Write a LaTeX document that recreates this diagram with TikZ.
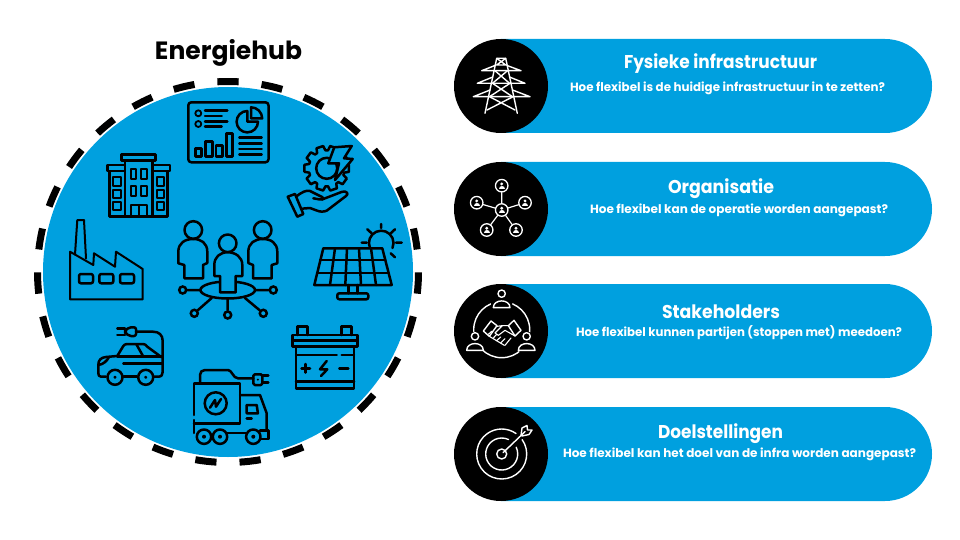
\documentclass[tikz,border=0pt]{standalone}
\usepackage{fontspec}
\setmainfont{Poppins}
\usepackage{graphicx}
\definecolor{hubblue}{HTML}{00A0DF}
\newcommand{\fitw}[3]{\resizebox{#1pt}{\height}{\fontsize{#2}{#2}\selectfont\bfseries #3}}
\tikzset{
  ico/.style={draw=black,line width=2.5pt,line join=round,line cap=round},
  icofill/.style={ico,fill=hubblue},
  wico/.style={draw=white,line width=1.4pt,line join=round,line cap=round},
  wicofill/.style={wico,fill=black},
  ringdash/.style={draw=black,line width=7pt},
  pill/.style={fill=hubblue},
  badge/.style={fill=black},
  lbl/.style={inner sep=0pt,text=white,anchor=center},
  dotnode/.style={circle,draw=black,line width=2.5pt,fill=hubblue,minimum size=7pt,inner sep=0pt},
  pnode/.style={circle,draw=white,line width=1.3pt,fill=black,minimum size=12.5pt,inner sep=0pt},
}
\begin{document}
\begin{tikzpicture}[x=1pt,y=-1pt]
\useasboundingbox (0,0) rectangle (960,540);
% hub disc and ring
\fill[hubblue] (228,272) circle[radius=185];
\foreach \k in {0,...,26}{
  \pgfmathsetmacro{\a}{-90+13.3333*\k}
  \draw[ringdash] (228,272)+(\a-3.2:190.5) arc[start angle=\a-3.2,end angle=\a+3.2,radius=190.5];
}
\node[inner sep=0pt,text=black] (title) at (228.5,52.5) {\fitw{147}{25}{Energiehub}};
% pills and badges
\foreach \y/\n in {39/a,162/b,284/c,407/d}{
  \fill[pill] (501,\y) -- (885,\y) arc[start angle=-90,end angle=90,radius=47] -- (501,\y+94) -- cycle;
  \fill[badge] (501,\y+47) circle[radius=47];
}
\node[lbl] (t1) at (720.5,64) {\fitw{193}{18.5}{Fysieke infrastructuur}};
\node[lbl] (s1) at (727.5,88) {\fitw{315}{12}{Hoe flexibel is de huidige infrastructuur in te zetten?}};
\node[lbl] (t2) at (721,189) {\fitw{106}{18.5}{Organisatie}};
\node[lbl] (s2) at (739,210) {\fitw{298}{12}{Hoe flexibel kan de operatie worden aangepast?}};
\node[lbl] (t3) at (721,311.5) {\fitw{118}{18.5}{Stakeholders}};
\node[lbl] (s3) at (739,333) {\fitw{326}{12}{Hoe flexibel kunnen partijen (stoppen met) meedoen?}};
\node[lbl] (t4) at (720.5,434) {\fitw{125}{18.5}{Doelstellingen}};
\node[lbl] (s4) at (739.5,454) {\fitw{353}{12}{Hoe flexibel kan het doel van de infra worden aangepast?}};
% dashboard
\draw[ico,rounded corners=3pt] (188.3,102.3) rectangle (268.5,162.3);
\draw[ico,line width=1.8pt] (198.3,113.3) circle[radius=3] (198.3,124) circle[radius=3];
\draw[ico] (205,110.7)--(227.3,110.7) (205,116)--(221.7,116) (205,121.7)--(227.3,121.7) (205,126.7)--(221.7,126.7);
\draw[ico,line cap=butt] (195.7,148.3) rectangle (201.7,156.7) (205.7,141.7) rectangle (212.3,156.7) (216,145.7) rectangle (222.7,156.7) (226.7,133.3) rectangle (232.7,156.7);
\draw[ico] (247.3,111) arc[start angle=-90,end angle=-360,radius=10.7] -- (247.3,121.7) -- cycle;
\draw[ico] (251,107.3) arc[start angle=-90,end angle=0,radius=11.2] -- (251,118.5) -- cycle;
\draw[ico] (239.3,137.7)--(261.7,137.7) (239.3,143.3)--(261.7,143.3) (239.3,149)--(261.7,149) (239.3,154.3)--(261.7,154.3);
% building
\draw[ico,line cap=butt] (121.7,154.3) rectangle (155.7,160.7);
\draw[ico,line cap=butt] (107.3,165) rectangle (125,171) (152.3,165) rectangle (170,171);
\draw[ico,line cap=butt] (125,160.7) rectangle (152.3,216.7);
\draw[ico,line cap=butt] (109.3,171) rectangle (125,216.7) (152.3,171) rectangle (167.7,216.7);
\foreach \yy in {169,185.7}{\draw[ico,line width=2pt] (130.7,\yy) rectangle (136,\yy+10) (141,\yy) rectangle (146.7,\yy+10);}
\draw[ico,line width=2pt] (130.7,216.7)--(130.7,205)--(146.7,205)--(146.7,216.7) (138.7,205)--(138.7,216.7);
\foreach \yy in {177.3,190,201.7}{\draw[ico,line width=2pt] (113.3,\yy) rectangle (120.7,\yy+8.3) (156.7,\yy) rectangle (164,\yy+8.3);}
% factory
\draw[ico,line width=2pt] (70,299.3)--(70,251.7)--(93.3,265)--(94,253.3)--(115,266.7)--(116,251.7)--(142.7,269)--(142.7,299.3)--cycle;
\draw[ico,line width=2pt] (75,254.5)--(77.3,220)--(84,220)--(86,258.5);
\foreach \xx in {79,99.3,120}{\draw[ico,rounded corners=2pt] (\xx,274) rectangle (\xx+14,283.3);}
% solar panel
\draw[ico] (323.3,248.3)--(382.3,248.3)--(391.7,285)--(314.3,285)--cycle;
\draw[ico] (320,260)--(385.3,260) (317,273)--(388.5,273);
\draw[ico] (335,248.3)--(330,285) (347,248.3)--(345.3,285) (359,248.3)--(361,285) (371,248.3)--(376,285);
\draw[ico] (348.3,285)--(348.3,293.3) (357.3,285)--(357.3,293.3);
\draw[ico,rounded corners=2pt] (337.3,293.3) rectangle (368.3,299.3);
\draw[ico] (370,248) arc[start angle=156,end angle=384,radius=12.3];
\draw[ico] (381,224)--(381,228) (367.3,229.3)--(371.7,233.3) (395,229.3)--(390.7,233.3) (361.7,242.7)--(366.7,242.7) (396,242.7)--(401.7,242.7) (390.7,253.3)--(395,257.3);
% gear and hand
\draw[ico] ([shift={(326.7,168.3)}]-14:18) \foreach \a in {0,36,...,324}{ -- ([shift={(326.7,168.3)}]\a-14:18) -- ([shift={(326.7,168.3)}]\a-9:22.5) -- ([shift={(326.7,168.3)}]\a+9:22.5) -- ([shift={(326.7,168.3)}]\a+14:18)} -- cycle;
\draw[ico] (326.7,168.3) circle[radius=10.5];
\draw[icofill] (334.3,147.3)--(351.7,146)--(344,158.3)--(352.7,159)--(335,180)--(339,163.3)--(328.3,163.3)--cycle;
\draw[ico] (287.7,196.7)--(295,194)--(303.3,214)--(297.3,216.7)--cycle;
\draw[ico] (296,196.7) .. controls (302,192) and (306,190) .. (310,191) -- (320,196) .. controls (324,197) and (324,200) .. (320,199.5) -- (313.3,198.3);
\draw[ico] (322,199.5) -- (342,191.8) .. controls (347,190.5) and (349,194) .. (346,196) -- (327,210.5) .. controls (324,212) and (320,212) .. (316.7,210.5) -- (310,208) -- (302.7,208.6);
% battery
\draw[ico] (297.3,335)--(297.3,326.7)--(307.3,326.7)--(307.3,335) (341.7,335)--(341.7,326.7)--(351.7,326.7)--(351.7,335);
\draw[ico] (292.7,335) rectangle (357.3,346.7);
\draw[ico] (292.7,340.7)--(357.3,340.7);
\draw[ico] (296,346.7) rectangle (354,388.3);
\draw[ico] (296,355)--(336.7,355) (341.7,355)--(354,355) (296,381.7)--(354,381.7);
\draw[ico] (301.5,368.3)--(310,368.3) (305.7,364)--(305.7,372.6) (339.3,368.3)--(348.3,368.3);
\draw[ico] (326.7,361)--(320,369.3)--(327.3,369.3)--(321,376);
% car
\draw[ico] (136,331.7)--(153,331.7) .. controls (159,331.7) and (162.7,335) .. (162.7,341) -- (162.7,372) .. controls (162.7,375) and (161.5,376.7) .. (158,376.7) -- (154,376.7);
\draw[ico,rounded corners=2pt] (136,327.3) -- (129,327.3) -- (125,331) -- (125,332.5) -- (129,336) -- (136,336) -- cycle;
\draw[ico] (117.3,328.6)--(125,328.6) (117.3,335)--(125,335);
\draw[ico] (106,376.7)--(101,376.7) .. controls (99,376.7) and (98.3,375) .. (98.3,373) -- (98.3,365) .. controls (98.3,360) and (101,357.5) .. (106,357) -- (117.3,356) -- (123,346.5) .. controls (124,345) and (125,344) .. (127,344) -- (143,344) .. controls (145,344) and (146,345) .. (147,346.5) -- (161.7,357.3);
\draw[ico] (117.3,356.5)--(161.7,356.5);
\draw[ico] (136.5,344.5)--(143,356);
\draw[ico] (123.3,363.3)--(161.7,363.3);
\draw[ico] (98.5,365) .. controls (103,364.5) and (107,361) .. (109,357);
\draw[ico] (123.5,376.7)--(137,376.7);
\draw[icofill] (115,377.3) circle[radius=7.5] (145.7,377.3) circle[radius=7.5];
\draw[ico,line width=1.2pt] (115,377.3) circle[radius=1] (145.7,377.3) circle[radius=1];
% truck
\draw[ico] (194,415)--(194,383.3)--(240,383.3)--(240,423.3)--(194,423.3) (194,420)--(194,433);
\draw[ico] (200,383.3)--(200,375) .. controls (200,372) and (202,370) .. (205,370) -- (228,370) .. controls (232,370) and (233,378.3) .. (238,378.3) -- (253.3,378.3);
\draw[ico,rounded corners=1.5pt] (253.3,374.3) rectangle (262.3,385);
\fill[black] (257.8,379.6) circle[radius=1.1];
\draw[ico] (262.3,375.3)--(268.3,375.3) (262.3,382.7)--(268.3,382.7);
\draw[ico] (215.7,403.3) circle[radius=11];
\draw[ico] (210,407.7)--(215,400)--(216,406.7)--(221,399);
\draw[ico] (240,395)--(260,395)--(266.7,413.3)--(266.7,430.7);
\draw[ico] (246.7,405)--(256.7,405)--(257.9,413.3)--(246.7,413.3)--cycle;
\draw[ico] (246.7,418.3)--(251.7,418.3);
\draw[ico] (226,433)--(246,433);
\draw[ico] (260,430.7)--(268.3,430.7)--(268.3,439)--(260.5,439);
\draw[icofill] (204,436.7) circle[radius=7.2] (220,436.7) circle[radius=7.2] (253.3,436.7) circle[radius=7.2];
\fill[black] (204,436.7) circle[radius=2] (220,436.7) circle[radius=2] (253.3,436.7) circle[radius=2];
% people group
\draw[ico] (193.3,230) circle[radius=8.8] (262.7,230) circle[radius=8.8];
\draw[ico] (184.3,278.3)--(184.3,265)--(178.3,263.3)--(178.3,251.7) .. controls (178.3,243) and (185,239) .. (193.3,239) .. controls (201,239) and (207.3,243) .. (207.3,251.7) -- (207.3,263) -- (203,265) -- (203,278.3) -- cycle;
\draw[ico] (271.7,278.3)--(271.7,265)--(277.3,263.3)--(277.3,251.7) .. controls (277.3,243) and (271,239) .. (262.7,239) .. controls (255,239) and (248.3,243) .. (248.3,251.7) -- (248.3,263) -- (253,265) -- (253,278.3) -- cycle;
\draw[ico] (227.7,290) ellipse[x radius=27.3,y radius=8.5];
\draw[ico] (227.7,243.3) circle[radius=8.8];
\draw[icofill] (220,292.3)--(220,276)--(214.3,276)--(214.3,265) .. controls (214.3,257) and (220,252.3) .. (227.7,252.3) .. controls (235.5,252.3) and (242.3,257) .. (242.3,265) -- (242.3,276)--(235.7,276)--(235.7,292.3)--cycle;
\node[dotnode] (d1) at (182.7,290) {};
\node[dotnode] (d2) at (273.3,290) {};
\node[dotnode] (d3) at (194.3,313.3) {};
\node[dotnode] (d4) at (227.7,315) {};
\node[dotnode] (d5) at (263.3,313.3) {};
\coordinate (e1) at (200.5,290);
\coordinate (e2) at (255,290);
\coordinate (e3) at (211.7,298);
\coordinate (e4) at (227.7,298.5);
\coordinate (e5) at (245,298);
\draw[ico] (d1)--(e1) (d2)--(e2) (d3)--(e3) (d4)--(e4) (d5)--(e5);
% pylon
\draw[wico] (496.7,58.3)--(505.7,58.3) (496.7,58.3)--(485,113.3) (505.7,58.3)--(517.3,113.3);
\draw[wico] (496.7,58.3)--(505.7,65) (505.7,58.3)--(496.7,65) (495.3,65)--(507,65);
\draw[wico] (481.7,70.7)--(521,70.7) (481.7,70.7)--(495,65.5) (521,70.7)--(507,65.5);
\draw[wico] (477.3,83.3)--(525,83.3) (477.3,83.3)--(492.8,77) (525,83.3)--(509.5,77);
\draw[wico] (473.3,96.7)--(530,96.7) (473.3,96.7)--(490,90) (530,96.7)--(512.5,90);
\draw[wico] (495,70.7)--(509.5,83.3) (507.5,70.7)--(492.5,83.3) (492.5,83.3)--(512.5,96.7) (510,83.3)--(489.5,96.7) (489.5,96.7)--(515,110) (513,96.7)--(487,110);
% network badge
\node[pnode] (nc) at (501.7,210) {};
\node[pnode] (n1) at (501.7,185.7) {};
\node[pnode] (n2) at (476.7,202.7) {};
\node[pnode] (n3) at (525,202.7) {};
\node[pnode] (n4) at (486.7,230) {};
\node[pnode] (n5) at (516,230) {};
\draw[wico,line width=1.2pt] (nc)--(n1) (nc)--(n2) (nc)--(n3) (nc)--(n4) (nc)--(n5);
\foreach \p in {nc,n1,n2,n3,n4,n5}{
  \begin{scope}[shift={(\p)}]
  \fill[white] (0,-1.8) circle[radius=1.6];
  \fill[white] (-3,3) .. controls (-3,-0.8) and (3,-0.8) .. (3,3) -- cycle;
  \end{scope}
}
% stakeholders badge
\draw[wico] (501.7,329.7) circle[radius=28];
\begin{scope}[shift={(445,277)},x=0.3333pt,y=-0.3333pt]
\foreach \cx/\cy in {170/50,90/178,245/178}{
  \fill[black] (\cx,\cy+20) circle[radius=34];
  \draw[wicofill] (\cx,\cy) circle[radius=11];
  \draw[wicofill] (\cx-25,\cy+42) .. controls (\cx-25,\cy+15) and (\cx+25,\cy+15) .. (\cx+25,\cy+42) -- cycle;
}
% handshake
\draw[wicofill] (115,162)--(138,132)--(156,146)--(133,178)--cycle;
\draw[wicofill] (190,146)--(207,130)--(228,160)--(210,177)--cycle;
\draw[wico,line width=1.1pt] (133,178)--(178,205) (156,148)--(172,146)--(190,146) (172,146)--(150,168)--(160,175)--(180,160)--(210,177);
\draw[wico,line width=1.1pt] (140,163)--(130,172) (145,183)--(155,172) (155,191)--(167,180) (167,198)--(180,185) (180,205)--(198,183);
\end{scope}
% target badge
\draw[wico] (501.7,454) ++(-35:25) arc[start angle=-35,end angle=305,radius=25];
\draw[wico] (501.7,454) ++(-25:16) arc[start angle=-25,end angle=295,radius=16];
\draw[wico] (501.7,454) circle[radius=5];
\draw[wico] (503,452.7)--(525,431.7);
\draw[wico] (521,435.5)--(522,428)--(527,425.5)--(527.5,430)--(532,430)--(529,434.5)--(522,436);
\end{tikzpicture}
\end{document}
